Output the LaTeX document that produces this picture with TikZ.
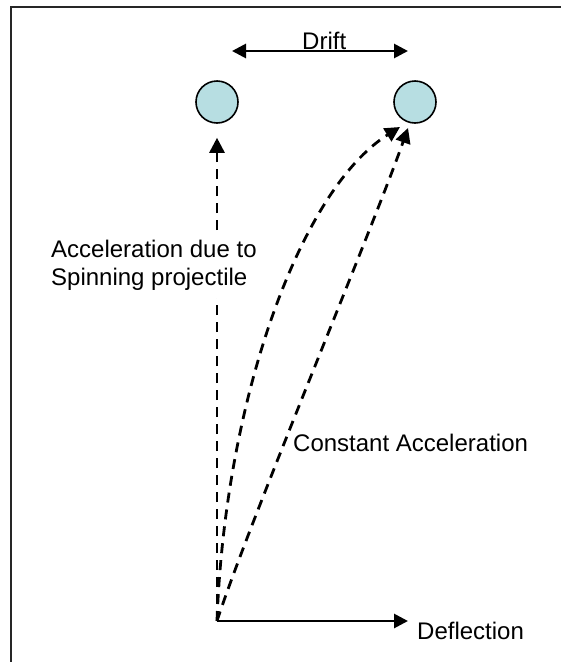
\documentclass[tikz,border=0pt]{standalone}
\usepackage{fontspec}
\setmainfont{Liberation Sans}
\usepackage{xcolor}
\usepackage{tikz}
\usetikzlibrary{arrows.meta,shapes,positioning}
\definecolor{ballcyan}{RGB}{183,222,226}

\begin{document}
\begin{tikzpicture}[x=1pt, y=-1pt,
    ball/.style={circle, draw=black, line width=1.6pt, fill=ballcyan, minimum size=42pt, inner sep=0pt},
    arrow/.style={-{Triangle[length=14pt,width=14pt]}, line width=2.8pt},
    dasharrow/.style={-{Triangle[length=15pt,width=15pt]}, line width=2.8pt, dash pattern=on 10pt off 7pt},
    lbl/.style={font=\fontsize{24}{28}\selectfont, inner sep=0pt}
]
    \useasboundingbox (0,0) rectangle (561,662);
    \draw[line width=1.8pt, draw=black!85] (11,662) |- (561,7);

    \node[ball] (ball1) at (217,102) {};
    \node[ball] (ball2) at (415,102) {};

    \coordinate (orig) at (217,621);
    \coordinate (tip1) at (400,127);
    \coordinate (tip2) at (408,128);
    \coordinate (drL) at (232,51);
    \coordinate (drR) at (408,51);
    \coordinate (defl) at (408,621);

    \draw[{Triangle[length=14pt,width=14pt]}-{Triangle[length=14pt,width=14pt]}, line width=2.8pt] (drL) -- (drR);
    \node[lbl, anchor=base west] (drift) at (302,49) {Drift};

    \draw[dasharrow, shorten >=14pt] (orig) -- (ball1.south);
    \draw[dasharrow] (orig) .. controls (225,400) and (300,190) .. (tip1);
    \draw[dasharrow] (orig) .. controls (250,520) and (372,230) .. (tip2);
    \draw[arrow] (orig) -- (defl);

    \node[lbl, fill=white, align=left, anchor=north west, inner xsep=4pt, inner ysep=8pt] (spin) at (47,231.5) {Acceleration due to\\Spinning projectile};
    \node[lbl, anchor=base west] (const) at (293,451) {Constant Acceleration};
    \node[lbl, anchor=base west] (deflection) at (417,639) {Deflection};
\end{tikzpicture}
\end{document}
